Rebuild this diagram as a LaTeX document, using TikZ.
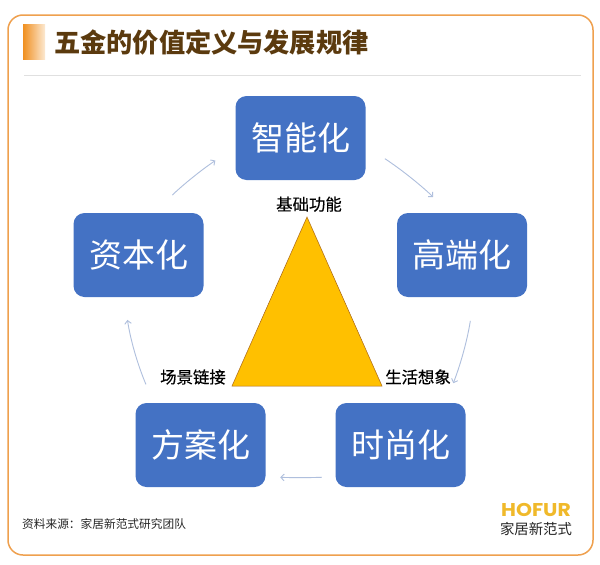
\documentclass[tikz,border=0pt]{standalone}
\usepackage{fontspec}
\setmainfont{Noto Sans CJK SC}
\newfontfamily\logofont{Poppins}
\newfontfamily\labelfont[FakeBold=0.4]{Noto Sans CJK SC}
\usetikzlibrary{
  arrows.meta,
  positioning,
}
\definecolor{frameorange}{HTML}{EFA04E}
\definecolor{barorange}{HTML}{F09020}
\definecolor{titlebrown}{HTML}{5B3A0E}
\definecolor{boxblue}{HTML}{4472C4}
\definecolor{flowblue}{HTML}{AFBFDD}
\definecolor{triyellow}{HTML}{FFC000}
\definecolor{logoyellow}{HTML}{F0B92A}
\tikzset{
  >={Straight Barb[]},
  valuebox/.style={rectangle,rounded corners=11,fill=boxblue,text=white,minimum width=130,minimum height=84,inner sep=0,font=\fontsize{33}{33}\selectfont},
  flow/.style={->,draw=flowblue,line width=0.9},
  cornerlabel/.style={inner sep=0,font=\labelfont\fontsize{16.4}{16.4}\selectfont},
}

\begin{document}
\begin{tikzpicture}[x=1pt,y=-1pt]

      \useasboundingbox (0,0) rectangle (600,565);
      \fill[white] (0,0) rectangle (600,565);
      \draw[frameorange,line width=1.5,rounded corners=15] (8,15) rectangle (593,555);

      \node[rectangle,minimum width=22,minimum height=35,inner sep=0,left color=barorange,right color=barorange!20] (titlebar) at (34,41.5) {};
      \node[anchor=west,inner sep=0,text=titlebrown,font=\fontsize{26.2}{26.2}\selectfont\bfseries] (title) at (54,42) {五金的价值定义与发展规律};
      \coordinate (ruleL) at (24,75);
      \coordinate (ruleR) at (581,75);
      \draw[black!12,line width=0.8] (ruleL) -- (ruleR);

      \node[valuebox] (zhineng) at (300.5,138) {智能化};
      \node[valuebox] (gaoduan) at (462,255) {高端化};
      \node[valuebox] (shishang) at (400.5,445) {时尚化};
      \node[valuebox] (fangan) at (200.5,445) {方案化};
      \node[valuebox] (ziben) at (138.5,255) {资本化};

      \coordinate (apex) at (307,217);
      \coordinate (baseL) at (232,386);
      \coordinate (baseR) at (382,386);
      \draw[fill=triyellow,draw=barorange!70!black,line width=0.5] (apex) -- (baseL) -- (baseR) -- cycle;

      \node[cornerlabel] (jichu) [above=5pt of apex, xshift=2] {基础功能};
      \node[cornerlabel,anchor=east] (changjing) at (226,377) {场景链接};
      \node[cornerlabel,anchor=west] (shenghuo) at (385,377) {生活想象};

      \draw[flow,shorten <=23,shorten >=23] (zhineng.-7) to[bend left=5] (gaoduan.106);
      \draw[flow,shorten <=24,shorten >=21] (gaoduan.-74) to[bend left=6] (shishang.43);
      \draw[flow,shorten <=13.5,shorten >=14.5] (shishang.206) to[bend left=2] (fangan.-26);
      \draw[flow,shorten <=20,shorten >=23] (fangan.138.2) to[bend left=7] (ziben.251);
      \draw[flow,shorten <=25.6,shorten >=24] (ziben.70) to[bend left=5] (zhineng.188);

      \node[anchor=west,inner sep=0,font=\fontsize{11.7}{11.7}\selectfont,text=black!85] (source) at (22,524) {资料来源：家居新范式研究团队};
      \node[inner sep=0,text=logoyellow,font=\logofont\bfseries\fontsize{18.5}{18.5}\selectfont] (hofur) at (536,510) {\scalebox{1.1}[1]{HOFUR}};
      \node[inner sep=0,text=black!85,font=\fontsize{14.4}{14.4}\selectfont] (brand) [below=5pt of hofur] {家居新范式};

    \end{tikzpicture}
\end{document}
